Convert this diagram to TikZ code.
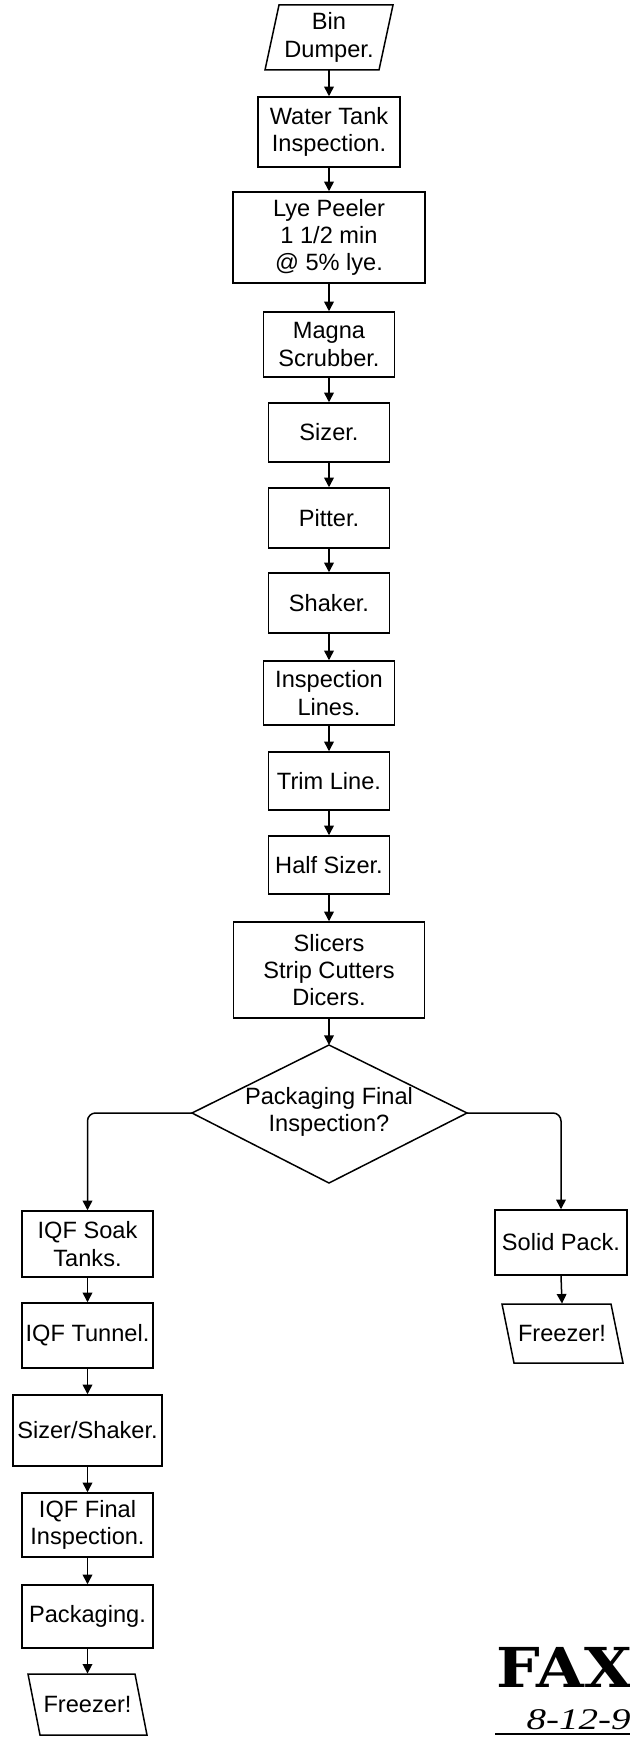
\documentclass[tikz,border=0pt]{standalone}
\usepackage{fontspec}
\setmainfont{Liberation Sans}
\newfontfamily\stampfont{DejaVu Serif}
\newfontfamily\handfont{Liberation Serif}
\usetikzlibrary{arrows.meta}
\tikzset{
  procbox/.style={draw, line width=0.75pt, rectangle, inner sep=0pt, align=center,
    font=\fontsize{11.8}{13.6}\selectfont},
  lbl/.style={inner sep=0pt, align=center, font=\fontsize{11.8}{13.6}\selectfont},
  shapeline/.style={line width=0.75pt, line join=miter},
  flow/.style={line width=0.75pt, -{Triangle[length=4.8pt,width=4.8pt]}},
}
\begin{document}
\begin{tikzpicture}[x=0.5pt,y=-0.5pt]
\useasboundingbox (0,0) rectangle (630,1743);
\fill[white] (0,0) rectangle (630,1743);
% main column
\draw[shapeline] (279,5) -- (393,5) -- (379,70) -- (265,70) -- cycle;
\node[lbl, minimum height=32.5pt] (bin) at (329,37.5) {Bin\\Dumper.};
\node[procbox, minimum width=71pt,   minimum height=35pt]   (water)  at (329,132)   {Water Tank\\Inspection.};
\node[procbox, minimum width=96pt,   minimum height=45.5pt] (lye)    at (329,237.5) {Lye Peeler\\1 1/2 min\\@ 5\% lye.};
\node[procbox, minimum width=65.5pt, minimum height=32.5pt] (magna)  at (329,344.5) {Magna\\Scrubber.};
\node[procbox, minimum width=60.5pt, minimum height=29.5pt] (sizer)  at (329,432.5) {Sizer.};
\node[procbox, minimum width=60.5pt, minimum height=30pt]   (pitter) at (329,518)   {Pitter.};
\node[procbox, minimum width=60.5pt, minimum height=30pt]   (shaker) at (329,603)   {Shaker.};
\node[procbox, minimum width=65.5pt, minimum height=32pt]   (insp)   at (329,693)   {Inspection\\Lines.};
\node[procbox, minimum width=60.5pt, minimum height=29pt]   (trim)   at (329,781)   {Trim Line.};
\node[procbox, minimum width=60.5pt, minimum height=29pt]   (half)   at (329,865)   {Half Sizer.};
\node[procbox, minimum width=95.5pt, minimum height=48pt]   (slicers) at (329,970)  {Slicers\\Strip Cutters\\Dicers.};
% decision
\coordinate (dT) at (329,1045);
\coordinate (dL) at (192,1113);
\coordinate (dR) at (467,1113);
\coordinate (dB) at (329,1183);
\draw[shapeline] (dT) -- (dR) -- (dB) -- (dL) -- cycle;
\node[lbl] (dec) at (329,1112) {Packaging Final\\Inspection?};
% left column
\node[procbox, minimum width=65.5pt, minimum height=33pt]   (soak)   at (87.5,1244)   {IQF Soak\\Tanks.};
\node[procbox, minimum width=65.5pt, minimum height=32.5pt] (tunnel) at (87.5,1335.5) {IQF Tunnel.};
\node[procbox, minimum width=74.5pt, minimum height=35.5pt] (sizsh)  at (87.5,1430.5) {Sizer/Shaker.};
\node[procbox, minimum width=65.5pt, minimum height=32pt]   (final)  at (87.5,1525)   {IQF Final\\Inspection.};
\node[procbox, minimum width=65.5pt, minimum height=31.5pt] (pack)   at (87.5,1616.5) {Packaging.};
\draw[shapeline] (28,1674) -- (135,1674) -- (147,1735) -- (40,1735) -- cycle;
\node[lbl, minimum height=30.5pt] (frL) at (87.5,1704.5) {Freezer!};
% right column
\node[procbox, minimum width=66pt, minimum height=32.5pt] (solid) at (561,1242.5) {Solid Pack.};
\draw[shapeline] (502,1304) -- (611,1304) -- (623,1363) -- (514,1363) -- cycle;
\node[lbl, minimum height=29.5pt] (frR) at (562,1333.5) {Freezer!};
% connectors
\draw[flow] (bin.south) -- (water.north);
\draw[flow] (water.south) -- (lye.north);
\draw[flow] (lye.south) -- (magna.north);
\draw[flow] (magna.south) -- (sizer.north);
\draw[flow] (sizer.south) -- (pitter.north);
\draw[flow] (pitter.south) -- (shaker.north);
\draw[flow] (shaker.south) -- (insp.north);
\draw[flow] (insp.south) -- (trim.north);
\draw[flow] (trim.south) -- (half.north);
\draw[flow] (half.south) -- (slicers.north);
\draw[flow] (slicers.south) -- (dT);
\draw[flow, rounded corners=4pt] (dL) -| (soak.north);
\draw[flow, rounded corners=4pt] (dR) -| (solid.north);
\draw[flow] (soak.south) -- (tunnel.north);
\draw[flow] (tunnel.south) -- (sizsh.north);
\draw[flow] (sizsh.south) -- (final.north);
\draw[flow] (final.south) -- (pack.north);
\draw[flow] (pack.south) -- (frL.north);
\draw[flow] (solid.south) -- (frR.north);
% fax stamp
\begin{scope}
\clip (0,0) rectangle (630,1743);
\node[anchor=base west, inner sep=0pt, xscale=1.12, font=\stampfont\bfseries\fontsize{27.5}{27.5}\selectfont] (fax) at (496,1687) {FAX};
\node[anchor=base west, inner sep=0pt, xscale=1.3, font=\handfont\itshape\fontsize{15}{15}\selectfont] (date) at (526,1729) {8-12-9};
\coordinate (ulA) at (495,1734);
\coordinate (ulB) at (630,1734);
\draw[line width=1pt] (ulA) -- (ulB);
\end{scope}
\end{tikzpicture}
\end{document}
